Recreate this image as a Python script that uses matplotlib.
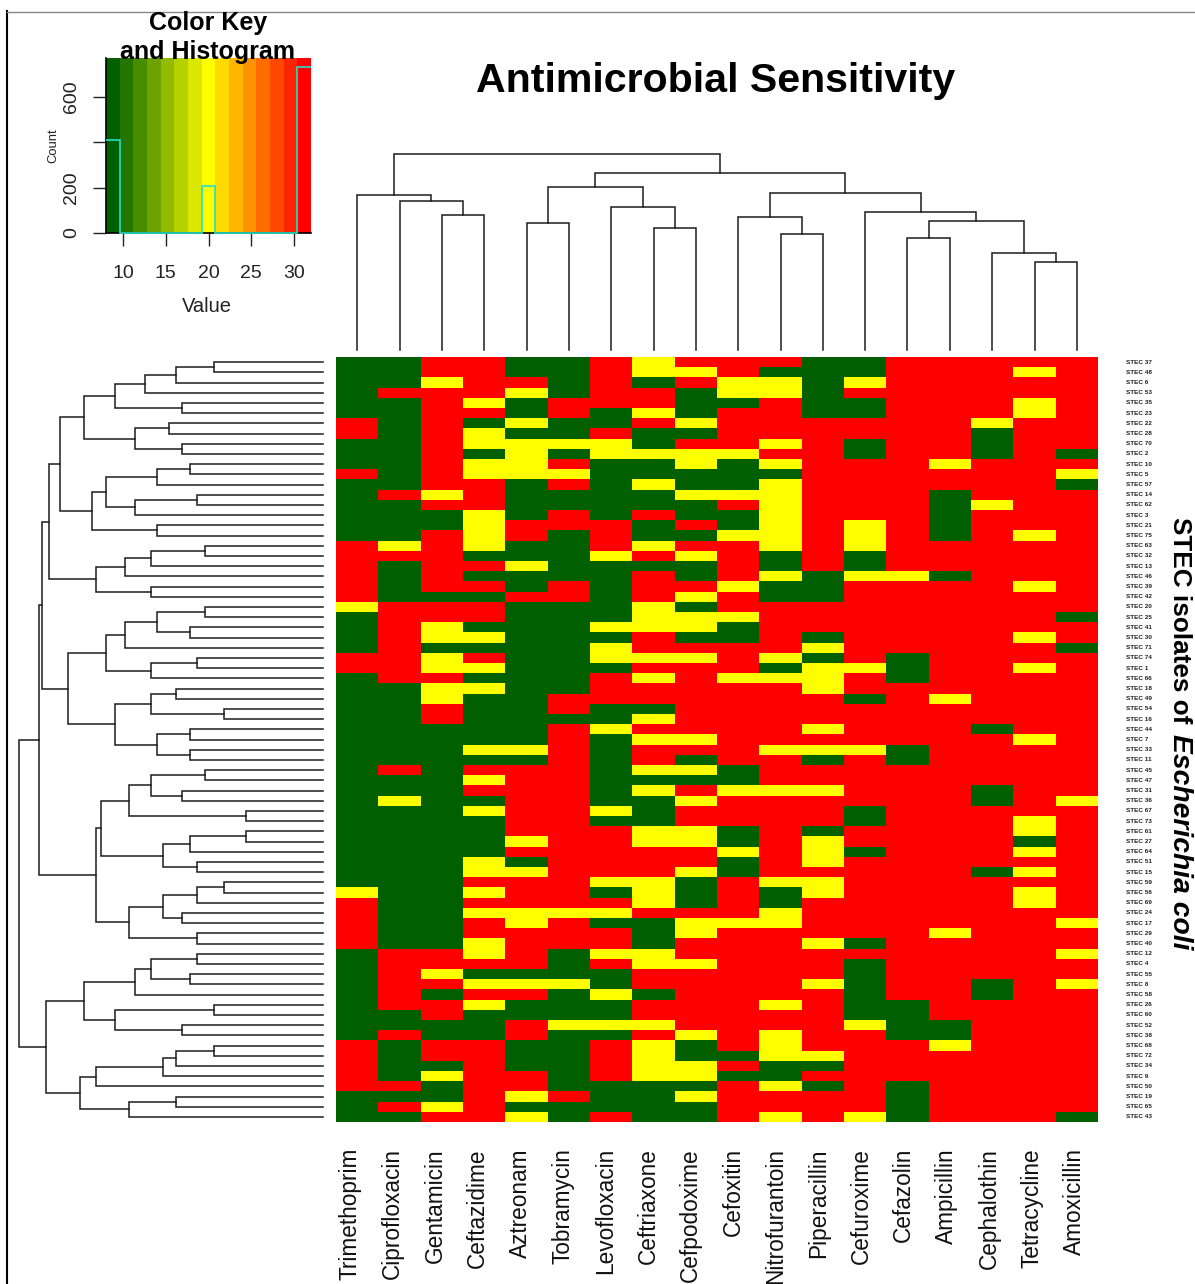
import numpy as np
import matplotlib
matplotlib.use('Agg')
import matplotlib.pyplot as plt
from matplotlib.colors import LinearSegmentedColormap, ListedColormap, BoundaryNorm
from matplotlib.lines import Line2D

W, H = 1195, 1284
plt.rcParams['font.family'] = ['Liberation Sans', 'DejaVu Sans']

drugs = ['Trimethoprim', 'Ciprofloxacin', 'Gentamicin', 'Ceftazidime', 'Aztreonam', 'Tobramycin',
         'Levofloxacin', 'Ceftriaxone', 'Cefpodoxime', 'Cefoxitin', 'Nitrofurantoin', 'Piperacillin',
         'Cefuroxime', 'Cefazolin', 'Ampicillin', 'Cephalothin', 'Tetracycline', 'Amoxicillin']

isolates = [37, 48, 6, 53, 35, 23, 22, 28, 70, 2, 10, 5, 57, 14, 62, 3, 21, 75, 63, 32, 13, 46, 39, 42, 20,
            25, 41, 30, 71, 74, 1, 66, 18, 49, 54, 16, 44, 7, 33, 11, 45, 47, 31, 36, 67, 73, 61, 27, 64, 51,
            15, 59, 56, 69, 24, 17, 29, 40, 12, 4, 55, 8, 58, 26, 60, 52, 38, 68, 72, 34, 9, 50, 19, 65, 43]

# one string per drug, top row first, grouped by 5 rows (G resistant, Y intermediate, R sensitive)
calls = [
    'GGGGG GRRGG GRGGG GGGRR RRRRY GGGGR RGGGG GGGGG GGGGG GGGGG GGYRR RRRGG GGGGG GGRRR RRGGG',
    'GGGRG GGGGG GGGRG GGGYR GGGGR RRRRR RRGGG GGGGG RGGYG GGGGG GGGGG GGGRR RRRRG GRGGG GRGRG',
    'RRYRR RRRRR RRRYR GGRRR RRRGR RYYGY YRYYR RGGGG GGGGG GGGGG GGGGG GGGRR YRGRR GGRRG YGGYR',
    'RRRRY RGYYG YYRRR YYYYG RGRGR RGYGR YGYGG GGGYG RYRGY GGGGY YRYRY RRYYR GYRYG GGRRR RRRRR',
    'GGRYG GYGYY YYGGG GRRGG YGGRG GGGGG GGGGG GGGYG RRRRR RRYRG YRRRY YRRRR GYRGG RRGGG RRYGY',
    'GGGGR RGGYG RYRGG RRGGG GGRRG GGGGG GGGRR GRRRR RRRRR RRRRR RRRRY RRRGG GYGGG YGGGG GGRGG',
    'RRRRR GGRYY GGGGG GRRRY GGGGG GYGYY GRRRG GYGGG GGGGY GRRRR RYGRY GRRYR GGYGG YGRRR RGGGR',
    'YYGRR YRGGY GGYGG RGGYR GRRRY YYRRY RYRRG YRYRR YGYGG GYYRR RYYYR GGGYY RRGRR YRYYY YGGGG',
    'RYRGG GYGRY YGGYG GRGRY GGRYG YYGRY RRRRR RRYRG YGRYR RYYRR YGGGR YYRRY RRRRR RYGGY YGYGG',
    'RRYYG RRRRY GGGYR GGYRR RRYRR YGGRR RYRRR RRRRR GGYRR RGGYG GRRRR YRRRR RRRRR RRRGR GRRRR',
    'RGYYR RRRYR YGYYY YYYYG GYGGR RRRRY GYRRR RRRYR RRYRR RRRRR RYGGY YRRRR RRRYR RYYYG GYRRY',
    'GGGGG GRRRR RRRRR RRRRR RGGGR RRGYG YYYRR RYRYG RRYRR RGYYY RYYRR RRYRR RYRRR RRRYG RGRRR',
    'GGYRG GRRGG RRRRR RYYYG GYRRR RRRRR YRRGR RRRYR RRRRG GRRGR RRRRR RRGRG GGGGG YRRRR RRRRY',
    'RRRRR RRRRR RRRRR RRRRR RYRRR RRRRG GGRRR RRRGG RRRRR RRRRR RRRRR RRRRR RRRGG GGRRR RGGGG',
    'RRRRR RRRRR YRRGG GGGRR RGRRR RRRRR RRRYR RRRRR RRRRR RRRRR RRRRR RYRRR RRRRR GGYRR RRRRR',
    'RRRRR RYGGG RRRRY RRRRR RRRRR RRRRR RRRRR RGRRR RRGGR RRRRR GRRRR RRRRR RGGRR RRRRR RRRRR',
    'RYRRY YRRRR RRRRR RRYRR RRYRR RRYRR YRRRR RRYRR RRRRR YYGYR YRYYR RRRRR RRRRR RRRRR RRRRR',
    'RRRRR RRRRG RYGRR RRRRR RRRRR GRRGR RRRRR RRRRR RRRYR RRRRR RRRRR YRRYR RYRRR RRRRR RRRRG',
]
level_values = {'G': 9, 'Y': 20, 'R': 31}

key_xticks = [10, 15, 20, 25, 30]
key_yticks = [0, 200, 400, 600]
key_ylabels = ['0', '200', '', '600']
key_counts = [410, 0, 0, 0, 0, 0, 0, 206, 0, 0, 0, 0, 0, 0, 731]

# (height, left, right), a plain int is a leaf
col_tree = (196,
            (155, 0, (149, 1, (135, 2, 3))),
            (177,
             (163, (127, 4, 5), (143, 6, (122, 7, 8))),
             (157,
              (133, 9, (116, 10, 11)),
              (138, 12, (129, (112, 13, 14), (97, 15, (88, 16, 17)))))))

rows_a = (239, (208, (178, (147, (109, 0, 1), 2), 3), (141, 4, 5)), (188, (154, 6, 7), (141, 8, 9)))
rows_b = (231, (217, (166, (133, 10, 11), 12), (188, (126, 13, 14), 15)), (166, 16, 17))
rows_c = (227, (198, (172, (118, 18, 19), 20), 21), (172, 22, 23))
rows_d = (255,
          (217, (198, (166, (118, 24, 25), (133, 26, 27)), 28), (172, (126, 29, 30), 31)),
          (208, (172, (147, 32, 33), (99, 34, 35)), (166, (133, 36, 37), (133, 38, 39))))
rows_e = (222,
          (194, (172, (118, 40, 41), (141, 42, 43)), (77, 44, 45)),
          (160, (133, (77, 46, 47), 48), (126, 49, 50)))
rows_f = (194, (160, (126, (99, 51, 52), 53), (141, 54, 55)), (126, 56, 57))
rows_g = (239, (188, (172, (126, 58, 59), (133, 60, 61)), 62), (208, (109, 63, 64), (141, 65, 66)))
rows_h = (243, (227, (160, (147, (109, 67, 68), 69), 70), 71), (194, (147, 72, 73), 74))
row_tree = (304,
            (284, (281, (274, (263, rows_a, rows_b), rows_c), rows_d), (227, rows_e, rows_f)),
            (277, rows_g, rows_h))


def ax_px(fig, left, top, right, bottom):
    # axes placed by reference pixels
    return fig.add_axes([left / W, 1 - bottom / H, (right - left) / W, (bottom - top) / H])


def draw_tree(ax, node, sideways):
    if isinstance(node, int):
        return node + 0.5, 0
    h, left, right = node
    p1, h1 = draw_tree(ax, left, sideways)
    p2, h2 = draw_tree(ax, right, sideways)
    pos = [p1, p1, p2, p2]
    hgt = [h1, h, h, h2]
    if sideways:
        ax.plot(hgt, pos, color='#1c1c1c', lw=1.1, solid_joinstyle='miter', clip_on=False)
    else:
        ax.plot(pos, hgt, color='#1c1c1c', lw=1.1, solid_joinstyle='miter', clip_on=False)
    return (p1 + p2) / 2, h


fig = plt.figure(figsize=(W / 100, H / 100), dpi=100)

# colours of the key, shared with the heatmap
key_breaks = np.linspace(8, 32, 16)
ramp = LinearSegmentedColormap.from_list('gyr', ['#006000', '#FFFF00', '#FF0000'])
key_cmap = ListedColormap(ramp(np.linspace(0, 1, 15)))
key_norm = BoundaryNorm(key_breaks, 15)

# heatmap
matrix = np.array([[level_values[c] for c in s.replace(' ', '')] for s in calls]).T
ax = ax_px(fig, 336, 357, 1098, 1122)
ax.pcolormesh(np.arange(19), np.arange(76), matrix, cmap=key_cmap, norm=key_norm)
ax.set_xlim(0, 18)
ax.set_ylim(75, 0)
ax.axis('off')
for i, name in enumerate(isolates):
    ax.text(18.66, i + 0.5, 'STEC %d' % name, fontsize=4.6, fontweight='bold', color='#222222',
            ha='left', va='center', clip_on=False)

# column labels
for i, name in enumerate(drugs):
    fig.text((350 + 42.6 * i) / W, 1 - 1148 / H, name, rotation=90, fontsize=16.3,
             ha='center', va='top', color='#111111')

# dendrograms
ax = ax_px(fig, 336, 150, 1098, 350)
draw_tree(ax, col_tree, False)
ax.set_xlim(0, 18)
ax.set_ylim(0, 200)
ax.axis('off')

ax = ax_px(fig, 0, 357, 323, 1122)
draw_tree(ax, row_tree, True)
ax.set_xlim(323, 0)
ax.set_ylim(75, 0)
ax.axis('off')

# colour key and histogram
ax = ax_px(fig, 106, 58, 311, 233)
mids = (key_breaks[:-1] + key_breaks[1:]) / 2
ax.pcolormesh(key_breaks, [0, 772], mids.reshape(1, -1), cmap=key_cmap, norm=key_norm)
ax.stairs(key_counts, key_breaks, color='#22e0c8', lw=1.2, baseline=None, clip_on=False, zorder=5)
ax.set_xlim(8, 32)
ax.set_ylim(0, 772)
ax.set_xticks(key_xticks)
ax.set_yticks(key_yticks)
ax.set_yticklabels(key_ylabels, rotation=90, va='center')
ax.tick_params(axis='x', length=9.4, width=1, labelsize=14, pad=14, colors='#222222')
ax.tick_params(axis='y', length=9.4, width=1, labelsize=14, pad=9, colors='#222222')
for side in ['top', 'right']:
    ax.spines[side].set_visible(False)
for side in ['left', 'bottom']:
    ax.spines[side].set_linewidth(1.2)
fig.text(207 / W, 1 - 306 / H, 'Value', fontsize=14.5, ha='center', va='center', color='#222222')
fig.text(53 / W, 1 - 146 / H, 'Count', fontsize=9.4, rotation=90, ha='center', va='center', color='#222222')
fig.text(208 / W, 1 - 23 / H, 'Color Key', fontsize=18, fontweight='bold', ha='center', va='center')
fig.text(208 / W, 1 - 52 / H, 'and Histogram', fontsize=18, fontweight='bold', ha='center', va='center')

# titles
fig.text(716 / W, 1 - 81 / H, 'Antimicrobial Sensitivity', fontsize=29.6, fontweight='bold',
         ha='center', va='center')
fig.text(1180 / W, 1 - 517 / H, 'STEC isolates of', fontsize=18.8, fontweight='bold', rotation=270,
         ha='center', va='top')
fig.text(1180 / W, 1 - 734 / H, 'Escherichia coli', fontsize=20.3, fontweight='bold', style='italic',
         rotation=270, ha='center', va='top')

# frame of the screenshot
fig.add_artist(Line2D([7 / W, 7 / W], [0, 1 - 11 / H], color='black', lw=1.5))
fig.add_artist(Line2D([7 / W, 1], [1 - 11.5 / H, 1 - 11.5 / H], color='#888888', lw=1))

fig.savefig('out.png', dpi=100)
